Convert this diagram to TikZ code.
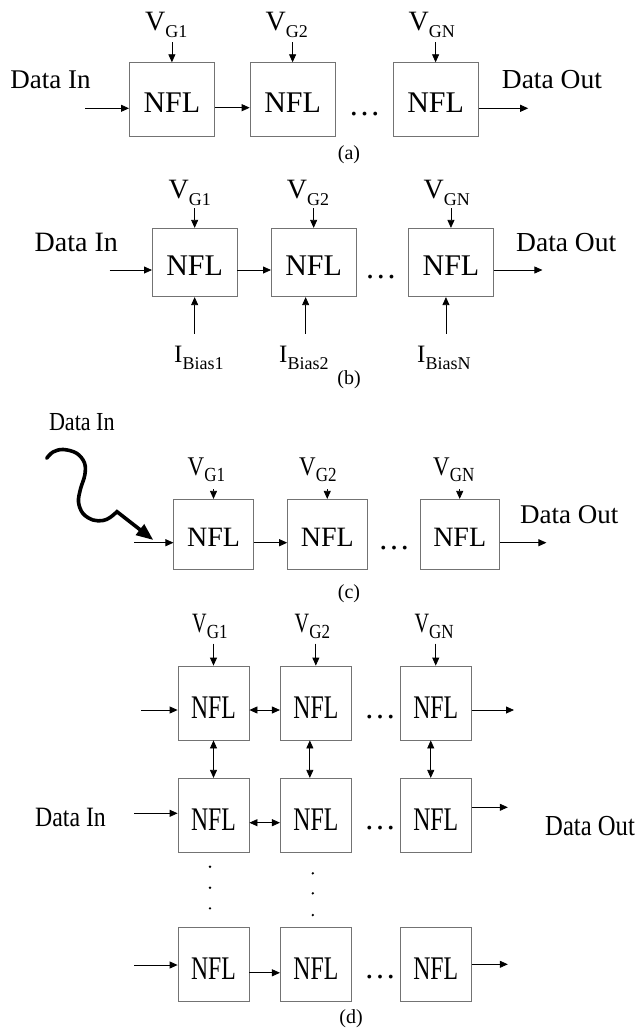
\documentclass[tikz,border=0pt]{standalone}
\usepackage{fontspec}
\usepackage{graphicx}
\setmainfont{Liberation Serif}
\newfontfamily\condfont[FakeStretch=0.85]{Liberation Serif}
\newfontfamily\narrowfont[FakeStretch=0.72]{Liberation Serif}
\usetikzlibrary{arrows.meta,calc}

\newcommand{\fs}[1]{\fontsize{#1}{#1}\selectfont}
% lowered subscripts for the V_G and I_Bias labels
\newcommand{\lowsub}[1]{\raisebox{-7pt}{\fs{18}#1}}
\newcommand{\lowsubd}[1]{\raisebox{-6.6pt}{\condfont\fs{20}#1}}

\tikzset{
  nfl/.style={draw=black!55, line width=0.8pt, inner sep=0pt,
    text height=25pt, text depth=0pt, font=\fs{30}},
  arr/.style={line width=0.8pt, -{Triangle[length=8pt,width=7pt]}},
  darr/.style={line width=0.8pt, {Triangle[length=8pt,width=7pt]}-{Triangle[length=8pt,width=7pt]}},
  lbl/.style={inner sep=0pt, anchor=base west, font=\fs{26}},
  vlbl/.style={inner sep=0pt, anchor=base west, font=\fs{28}},
  caption/.style={inner sep=0pt, font=\fs{20}},
  ell/.style={inner sep=0pt, anchor=base, font=\fs{32}},
  vdot/.style={fill=black, draw=none},
}

\begin{document}
\begin{tikzpicture}[x=1pt, y=-1pt]
\useasboundingbox (0,0) rectangle (635,1029);

% ---------------- (a) plain chain ----------------
\node[nfl, minimum width=85pt, minimum height=74pt] (a1) at (171.9,99.7) {NFL};
\node[nfl, minimum width=85pt, minimum height=74pt] (a2) at (292.6,99.7) {NFL};
\node[nfl, minimum width=85pt, minimum height=74pt] (a3) at (435.6,99.7) {NFL};
\node[vlbl] (va1) at (145,30) {V\lowsub{G1}};
\node[vlbl] (va2) at (265.4,30) {V\lowsub{G2}};
\node[vlbl] (va3) at (408.4,30) {V\lowsub{GN}};
\draw[arr] ($(va1.south -| a1.north)+(0,5)$) -- (a1.north);
\draw[arr] ($(va2.south -| a2.north)+(0,5)$) -- (a2.north);
\draw[arr] ($(va3.south -| a3.north)+(0,5)$) -- (a3.north);
\node[lbl, font=\fs{27}] (ain) at (10.2,88.3) {Data In};
\node[lbl, font=\fs{27.5}] (aout) at (501.7,88.3) {Data Out};
\coordinate (ainS) at (85.3,108.3);
\coordinate (aoutE) at (528.2,108.3);
\draw[arr] (ainS) -- (ainS -| a1.west);
\draw[arr] ($(a1.east)+(0,8)$) -- ($(a2.west)+(0,8)$);
\draw[arr] (aoutE -| a3.east) -- (aoutE);
\node[ell] (adots) at (364.6,115) {…};
\node[caption] (acap) at (349,155) {(a)};

% ---------------- (b) with bias currents ----------------
\node[nfl, minimum width=84.5pt, minimum height=68.4pt] (b1) at (194.65,262.5) {NFL};
\node[nfl, minimum width=84.5pt, minimum height=68.4pt] (b2) at (313.65,262.5) {NFL};
\node[nfl, minimum width=84.5pt, minimum height=68.4pt] (b3) at (450.95,262.5) {NFL};
\node[vlbl] (vb1) at (168.4,198.3) {V\lowsub{G1}};
\node[vlbl] (vb2) at (286.6,198.3) {V\lowsub{G2}};
\node[vlbl] (vb3) at (423.5,198.3) {V\lowsub{GN}};
\draw[arr] ($(vb1.south -| b1.north)+(0,2.5)$) -- (b1.north);
\draw[arr] ($(vb2.south -| b2.north)+(0,2.5)$) -- (b2.north);
\draw[arr] ($(vb3.south -| b3.north)+(0,2.5)$) -- (b3.north);
\node[lbl, font=\fs{28}] (bin) at (34.5,251.7) {Data In};
\node[lbl, font=\fs{27.5}] (bout) at (516,251.7) {Data Out};
\coordinate (binS) at (109.7,270);
\coordinate (boutE) at (542.4,270);
\draw[arr] (binS) -- (binS -| b1.west);
\draw[arr] ($(b1.east)+(0,7.5)$) -- ($(b2.west)+(0,7.5)$);
\draw[arr] (boutE -| b3.east) -- (boutE);
\node[lbl, font=\fs{25}] (ib1) at (174,362) {I\lowsub{Bias1}};
\node[lbl, font=\fs{25}] (ib2) at (279,362) {I\lowsub{Bias2}};
\node[lbl, font=\fs{25}] (ib3) at (417,362) {I\lowsub{BiasN}};
\draw[arr] ($(b1.south)+(0,36.6)$) -- (b1.south);
\draw[arr] ($(b2.south)+(-8,36.6)$) -- ($(b2.south)+(-8,0)$);
\draw[arr] ($(b3.south)+(-5,36.6)$) -- ($(b3.south)+(-5,0)$);
\node[ell] (bdots) at (380.9,278.5) {…};
\node[caption] (bcap) at (349,380) {(b)};

% ---------------- (c) optical input ----------------
\node[nfl, minimum width=79.3pt, minimum height=70pt, font=\fs{28}] (c1) at (213.5,534.3) {NFL};
\node[nfl, minimum width=79.3pt, minimum height=70pt, font=\fs{28}] (c2) at (327.25,534.3) {NFL};
\node[nfl, minimum width=79.3pt, minimum height=70pt, font=\fs{28}] (c3) at (459.7,534.3) {NFL};
\node[vlbl, font=\condfont\fs{27}] (vc1) at (187.5,475) {V\lowsubd{G1}};
\node[vlbl, font=\condfont\fs{27}] (vc2) at (299,475) {V\lowsubd{G2}};
\node[vlbl, font=\condfont\fs{27}] (vc3) at (433,475) {V\lowsubd{GN}};
\draw[arr] ($(vc1.south -| c1.north)+(0,7)$) -- (c1.north);
\draw[arr] ($(vc2.south -| c2.north)+(0,7)$) -- (c2.north);
\draw[arr] ($(vc3.south -| c3.north)+(0,7)$) -- (c3.north);
\node[lbl, font=\condfont\fs{26}] (cin) at (48.8,430) {Data In};
\node[lbl, font=\fs{27}] (cout) at (520,523) {Data Out};
\coordinate (cinS) at (134,542.7);
\coordinate (coutE) at (546.4,542.7);
\draw[arr] (cinS) -- (cinS -| c1.west);
\draw[arr] ($(c1.east)+(0,8.4)$) -- ($(c2.west)+(0,8.4)$);
\draw[arr] (coutE -| c3.east) -- (coutE);
% wavy light beam
\coordinate (beamtip) at (153.3,540);
\draw[line width=3.6pt, line cap=round, -{Triangle[length=17pt,width=13pt]}]
  plot[smooth, tension=0.6] coordinates {(46.7,458.3) (53,452) (63.3,449.5) (76.7,453.3)
    (84.5,463) (84.8,475) (80.5,489) (78.5,502) (83,513.5) (93,520) (103,520.5) (110,517.5) (117,511.7)}
  -- (beamtip);
\node[ell] (cdots) at (394,549) {…};
\node[caption] (ccap) at (349,593.3) {(c)};

% ---------------- (d) two-dimensional array ----------------
\tikzset{dbox/.style={nfl, minimum width=71pt, minimum height=74pt,
    text height=30pt, font=\narrowfont\fs{33}}}
\node[dbox] (d11) at (213.5,703) {NFL};
\node[dbox] (d12) at (315.85,703) {NFL};
\node[dbox] (d13) at (435.75,703) {NFL};
\node[dbox] (d21) at (213.5,815.3) {NFL};
\node[dbox] (d22) at (315.85,815.3) {NFL};
\node[dbox] (d23) at (435.75,815.3) {NFL};
\node[dbox] (d31) at (213.5,964.8) {NFL};
\node[dbox] (d32) at (315.85,964.8) {NFL};
\node[dbox] (d33) at (435.75,964.8) {NFL};
\node[vlbl, font=\narrowfont\fs{28}] (vd1) at (192,632) {V\lowsubd{G1}};
\node[vlbl, font=\narrowfont\fs{28}] (vd2) at (294.5,632) {V\lowsubd{G2}};
\node[vlbl, font=\narrowfont\fs{28}] (vd3) at (414.4,632) {V\lowsubd{GN}};
\draw[arr] ($(vd1.south -| d11.north)+(0,4.5)$) -- (d11.north);
\draw[arr] ($(vd2.south -| d12.north)+(0,4.5)$) -- (d12.north);
\draw[arr] ($(vd3.south -| d13.north)+(0,4.5)$) -- (d13.north);
% row 1
\coordinate (d1in) at (141.4,710);
\coordinate (d1out) at (514,710);
\draw[arr] (d1in) -- (d1in -| d11.west);
\draw[darr] ($(d11.east)+(0,7)$) -- ($(d12.west)+(0,7)$);
\draw[arr] (d1out -| d13.east) -- (d1out);
\node[ell] (d1dots) at (380,718.7) {…};
% links between rows 1 and 2
\draw[darr] (d11.south) -- (d21.north);
\draw[darr] ($(d12.south)+(-6,0)$) -- ($(d22.north)+(-6,0)$);
\draw[darr] ($(d13.south)+(-5,0)$) -- ($(d23.north)+(-5,0)$);
% row 2
\coordinate (d2in) at (134,813.3);
\coordinate (d2out) at (507.8,807.3);
\draw[arr] (d2in) -- (d2in -| d21.west);
\draw[darr] ($(d21.east)+(0,7.4)$) -- ($(d22.west)+(0,7.4)$);
\draw[arr] (d2out -| d23.east) -- (d2out);
\node[ell] (d2dots) at (380,829) {…};
\node[lbl, font=\condfont\fs{28}] (din) at (35,826.7) {Data In};
\node[lbl, font=\condfont\fs{29}] (dout) at (545,835) {Data Out};
% vertical ellipses
\fill[vdot] (210,866.7) circle (1.3pt) (210,887.7) circle (1.3pt) (210,908.3) circle (1.3pt);
\fill[vdot] (312.8,873.3) circle (1.3pt) (312.8,893.3) circle (1.3pt) (312.8,915) circle (1.3pt);
% row 3
\coordinate (d3in) at (134,965);
\coordinate (d3out) at (507.8,964.3);
\draw[arr] (d3in) -- (d3in -| d31.west);
\draw[arr] ($(d31.east)+(0,8)$) -- ($(d32.west)+(0,8)$);
\draw[arr] (d3out -| d33.east) -- (d3out);
\node[ell] (d3dots) at (380,978.7) {…};
\node[caption] (dcap) at (351,1019) {(d)};
\end{tikzpicture}
\end{document}
